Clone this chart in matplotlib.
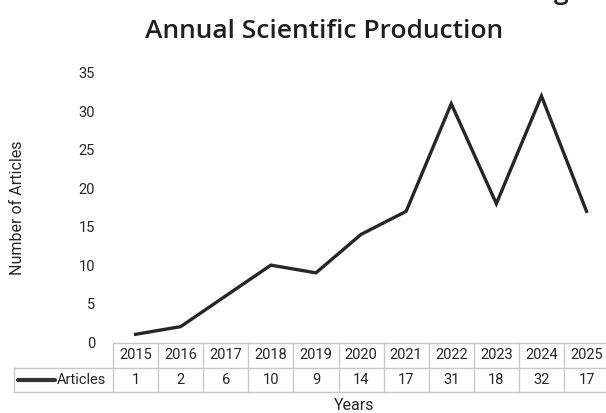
import matplotlib.pyplot as plt
import numpy as np

# data
years = ["2015", "2016", "2017", "2018", "2019", "2020", "2021", "2022", "2023", "2024", "2025"]
articles = [1, 2, 6, 10, 9, 14, 17, 31, 18, 32, 17]
yticks = [0, 5, 10, 15, 20, 25, 30, 35]

W, H = 606, 413
line_col = "#262626"
text_col = "#262626"
grid_col = "#c8c8c8"
font = "Roboto"

fig = plt.figure(figsize=(W / 100, H / 100), dpi=100)

# pixel helpers
col_w = 45.1
x0 = 113  # left of first column
x1 = x0 + col_w * len(years)
y_top, y_zero = 73, 342


def fx(px):
    return px / W


def fy(py):
    return 1 - py / H


ax = fig.add_axes([fx(x0), fy(y_zero), fx(x1) - fx(x0), fy(y_top) - fy(y_zero)])
x = np.arange(len(years))
ax.plot(x, articles, color=line_col, lw=2.4, solid_joinstyle="miter")
ax.set_xlim(-0.5, len(years) - 0.5)
ax.set_ylim(0, 35)
ax.set_yticks(yticks)
ax.set_yticklabels([str(v) for v in yticks], fontsize=10.5, color=text_col, family=font)
ax.tick_params(axis="y", length=0, pad=13)
ax.set_xticks([])
for s in ax.spines.values():
    s.set_visible(False)
ax.patch.set_alpha(0)

# data table underneath
tab_top, tab_mid, tab_bot = 343, 367, 392
left_px = 14
left_units = (x0 - left_px) / col_w
tax = fig.add_axes([fx(left_px), fy(tab_bot), fx(x1) - fx(left_px), fy(tab_top) - fy(tab_bot)])
tax.set_xlim(-0.5 - left_units, len(years) - 0.5)
tax.set_ylim(0, 2)
tax.axis("off")
lw = 1.0
# horizontal lines
tax.plot([-0.5, len(years) - 0.5], [2, 2], color=grid_col, lw=lw, clip_on=False)
tax.plot([-0.5 - left_units, len(years) - 0.5], [1, 1], color=grid_col, lw=lw, clip_on=False)
tax.plot([-0.5 - left_units, len(years) - 0.5], [0, 0], color=grid_col, lw=lw, clip_on=False)
for k in range(len(years) + 1):
    tax.plot([k - 0.5, k - 0.5], [0, 2], color=grid_col, lw=lw, clip_on=False)
tax.plot([-0.5 - left_units] * 2, [0, 1], color=grid_col, lw=lw, clip_on=False)

for i, (yr, v) in enumerate(zip(years, articles)):
    tax.text(i, 1.5, yr, ha="center", va="center", fontsize=10.5, color=text_col, family=font)
    tax.text(i, 0.5, str(v), ha="center", va="center", fontsize=10.5, color=text_col, family=font)

# legend key in the table
kx0 = -0.5 - left_units + 4 / col_w
kx1 = -0.5 - left_units + 41 / col_w
tax.plot([kx0, kx1], [0.5, 0.5], color="#333333", lw=3, solid_capstyle="round")
tax.text(kx1 + 2 / col_w, 0.5, "Articles", ha="left", va="center", fontsize=10.5,
         color=text_col, family=font)

# labels
fig.text(fx(354), fy(406), "Years", ha="center", va="center", fontsize=11.5,
         color=text_col, family=font)
fig.text(fx(18), fy(208), "Number of Articles", ha="center", va="center", rotation=90,
         fontsize=11.5, color=text_col, family=font)
fig.text(fx(324), fy(31), "Annual Scientific Production", ha="center", va="center",
         fontsize=19, fontweight="semibold", color="#1f1f1f", family="Open Sans")
# cut-off tail of a title above the image
fig.text(fx(561), fy(-1), "g", ha="center", va="baseline",
         fontsize=19, fontweight="semibold", color="#1f1f1f", family="Open Sans")

plt.savefig("out.png", dpi=100)
